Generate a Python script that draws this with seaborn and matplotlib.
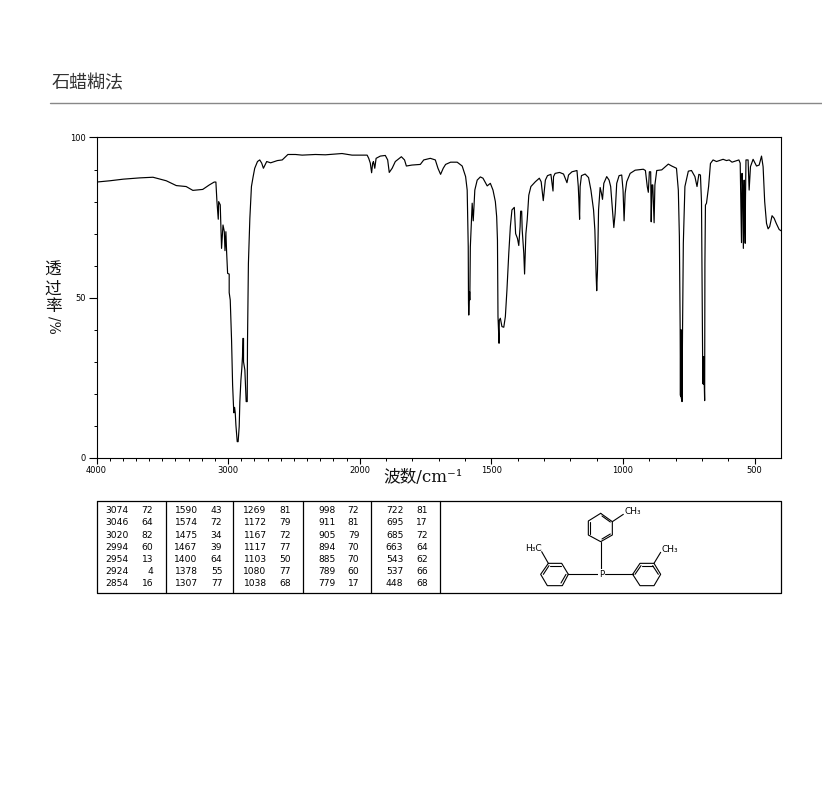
import numpy as np
import pandas as pd
import matplotlib
matplotlib.use('Agg')
import matplotlib.pyplot as plt
import seaborn as sns

sns.set_style('white')
plt.rcParams['font.family'] = ['DejaVu Sans', 'Noto Sans CJK SC']
plt.rcParams['text.color'] = 'black'
plt.rcParams['xtick.color'] = 'black'
plt.rcParams['ytick.color'] = 'black'

# spectrum, (wavenumber, %T) by region
ch_region = [(3999, 86.1), (3898, 86.5), (3797, 87.0), (3671, 87.4), (3571, 87.6), (3470, 86.5), (3394, 85.0),
             (3319, 84.7), (3268, 83.5), (3193, 83.8), (3143, 85.2), (3106, 86.1), (3093, 86.1), (3085, 80.0),
             (3075, 74.5), (3072, 80.0), (3060, 79.0), (3050, 65.4), (3039, 72.7), (3029, 70.6), (3024, 64.7),
             (3017, 70.6), (3012, 64.7), (3004, 57.6), (2992, 57.4), (2992, 51.6), (2984, 49.3), (2974, 36.8),
             (2966, 22.8), (2959, 16.0), (2956, 14.1), (2951, 15.8), (2946, 14.1), (2941, 10.3), (2931, 5.1),
             (2924, 5.1), (2916, 9.8), (2911, 17.6), (2903, 24.3), (2896, 28.0), (2891, 31.6), (2888, 37.3),
             (2883, 37.3), (2883, 30.0), (2873, 27.5), (2863, 17.6), (2855, 17.6), (2853, 35.8), (2846, 60.7),
             (2835, 74.8)]
flat_region = [(2823, 84.7), (2810, 87.8), (2798, 90.4), (2777, 92.5), (2760, 93.0), (2745, 92.0), (2732, 90.4),
               (2707, 92.5), (2677, 92.1), (2626, 92.8), (2589, 93.0), (2546, 94.7), (2488, 94.7), (2438, 94.5),
               (2337, 94.7), (2261, 94.6), (2135, 95.0), (2059, 94.5), (1972, 94.5), (1966, 93.5), (1960, 92.0),
               (1955, 89.0), (1951, 92.0), (1948, 92.5), (1943, 90.4), (1938, 93.5), (1922, 94.2), (1903, 94.4),
               (1894, 93.0), (1888, 89.1), (1877, 90.4), (1865, 92.5), (1842, 94.0), (1830, 93.0), (1823, 91.1),
               (1802, 91.4), (1770, 91.6), (1757, 93.0), (1732, 93.5), (1713, 93.0), (1703, 90.4), (1693, 88.5),
               (1683, 90.4), (1674, 91.6), (1655, 92.3), (1630, 92.3), (1611, 91.1)]
ring_region = [(1598, 87.8), (1592, 83.6), (1588, 65.9), (1587, 48.3), (1586, 44.6), (1583, 51.9), (1582, 49.3),
               (1580, 65.9), (1573, 79.5), (1569, 74.0), (1567, 77.4), (1563, 83.6), (1554, 86.7), (1542, 87.7),
               (1532, 87.3), (1516, 84.9), (1504, 85.7), (1494, 83.6), (1485, 80.0), (1480, 75.3), (1477, 68.0),
               (1475, 44.1), (1471, 35.8), (1470, 43.0), (1466, 43.6), (1460, 41.0), (1453, 40.8), (1447, 44.1),
               (1441, 52.4), (1434, 63.9), (1428, 72.2), (1422, 77.4), (1413, 78.2), (1408, 70.0), (1401, 68.5),
               (1396, 66.3), (1391, 72.2), (1389, 77.0), (1385, 77.0), (1383, 71.1), (1377, 63.9), (1374, 57.4),
               (1369, 70.0), (1364, 74.3), (1358, 82.0), (1350, 84.7), (1333, 86.2), (1318, 87.3), (1311, 86.2),
               (1303, 80.3), (1295, 86.7), (1287, 88.1), (1274, 88.5), (1266, 83.3), (1264, 87.8), (1258, 88.8),
               (1241, 89.1), (1226, 88.6), (1213, 85.9), (1207, 88.3), (1194, 89.3), (1175, 89.7), (1170, 84.7),
               (1168, 81.0), (1165, 74.5), (1163, 84.7), (1158, 88.1), (1144, 88.6), (1131, 87.5), (1122, 83.6)]
fingerprint = [(1112, 77.4), (1107, 71.1), (1102, 56.6), (1100, 52.2), (1097, 58.7), (1093, 77.4), (1087, 84.4),
               (1082, 82.6), (1078, 80.7), (1073, 85.7), (1062, 87.8), (1053, 86.7), (1047, 84.7), (1040, 77.4),
               (1035, 71.9), (1030, 76.3), (1024, 85.7), (1015, 88.1), (1005, 88.3), (1000, 83.6), (996, 74.0),
               (992, 82.6), (986, 86.2), (973, 88.8), (954, 89.8), (923, 90.1), (915, 89.7), (908, 84.7),
               (904, 82.9), (900, 89.3), (895, 89.3), (893, 73.7), (890, 85.2), (887, 85.2), (882, 73.4),
               (879, 85.2), (872, 89.7), (853, 89.9), (828, 91.7), (815, 91.1), (797, 90.4), (790, 83.6),
               (786, 69.1), (783, 39.9), (782, 19.5), (781, 39.9), (780, 19.1), (779, 39.9), (778, 18.5),
               (777, 39.9), (776, 17.6), (774, 39.9), (771, 67.0),
               (765, 84.7), (752, 89.5), (740, 89.7), (727, 87.8), (719, 84.7), (712, 88.5), (706, 88.3),
               (702, 80.0), (698, 31.6), (697, 23.3), (696, 31.6), (695, 23.0), (694, 31.6), (690, 17.9),
               (689, 60.7), (687, 78.9),
               (683, 79.5), (675, 84.7), (668, 91.9), (658, 93.0), (645, 92.5), (620, 93.2), (607, 92.8),
               (597, 93.0), (586, 92.3), (560, 93.0), (555, 92.0), (550, 67.2), (548, 88.8), (545, 83.1),
               (543, 65.4), (540, 86.7), (538, 79.5), (536, 67.0), (535, 80.5), (533, 93.0), (525, 93.0),
               (521, 83.6), (516, 90.9), (506, 93.2), (493, 91.1), (483, 91.4), (474, 94.2), (468, 90.9),
               (462, 80.0), (455, 73.2), (449, 71.5), (443, 72.2), (434, 75.6), (426, 74.8), (418, 73.2),
               (407, 71.3), (400, 70.9)]

# peak table columns
peak_wn = [['3074', '3046', '3020', '2994', '2954', '2924', '2854'],
           ['1590', '1574', '1475', '1467', '1400', '1378', '1307'],
           ['1269', '1172', '1167', '1117', '1103', '1080', '1038'],
           ['998', '911', '905', '894', '885', '789', '779'],
           ['722', '695', '685', '663', '543', '537', '448']]
peak_t = [['72', '64', '82', '60', '13', '4', '16'],
          ['43', '72', '34', '39', '64', '55', '77'],
          ['81', '79', '72', '77', '50', '77', '68'],
          ['72', '81', '79', '70', '70', '60', '17'],
          ['81', '17', '72', '64', '62', '66', '68']]
x_major = [4000, 3000, 2000, 1500, 1000, 500]


# wavenumber axis is stretched 2x below 2000
def forward(w):
    w = np.asarray(w, dtype=float)
    return np.where(w >= 2000, w, 2000 + (w - 2000) * 2)


def inverse(v):
    v = np.asarray(v, dtype=float)
    return np.where(v >= 2000, v, 2000 + (v - 2000) / 2)


W, H = 822, 794
fig = plt.figure(figsize=(W / 100, H / 100), dpi=100)
ax = fig.add_axes([96.5 / W, 1 - 458 / H, 684.5 / W, 320.5 / H])

df = pd.DataFrame(ch_region + flat_region + ring_region + fingerprint, columns=['wavenumber', 'T'])
sns.lineplot(data=df, x='wavenumber', y='T', sort=False, estimator=None, color='black', lw=0.85, ax=ax)

ax.set_xscale('function', functions=(forward, inverse))
ax.set_xlim(4000, 400)
ax.set_ylim(0, 100)
ax.set_xlabel('')
ax.set_ylabel('')
ax.set_xticks(x_major)
ax.set_xticklabels([str(v) for v in x_major])
ax.set_xticks([v for v in range(3900, 400, -100) if v not in x_major], minor=True)
ax.set_yticks([0, 50, 100])
ax.set_yticks([v for v in range(10, 100, 10) if v != 50], minor=True)
ax.tick_params(axis='x', which='major', length=4, width=0.8, bottom=True, labelsize=6, pad=2)
ax.tick_params(axis='x', which='minor', length=2.2, width=0.7, bottom=True)
ax.tick_params(axis='y', which='major', length=6, width=0.8, left=True, labelsize=6, pad=2)
ax.tick_params(axis='y', which='minor', length=2.5, width=0.7, left=True)
for s in ax.spines.values():
    s.set_color('black')
    s.set_linewidth(0.8)

# overlay in pixel units for the title, table and structure
ov = fig.add_axes([0, 0, 1, 1], facecolor='none')
ov.set_xlim(0, W)
ov.set_ylim(H, 0)
ov.axis('off')

cjk = ['Noto Sans CJK SC', 'DejaVu Sans']
serif = ['DejaVu Serif', 'Noto Sans CJK SC']
ov.text(52, 83, '石蜡糊法', fontsize=13, color='#333333', family=cjk, va='center', ha='left')
ov.plot([50, 822], [103, 103], color='#888888', lw=1)

for ch, y in zip('透过率', [270, 289, 306]):
    ov.text(53, y, ch, fontsize=12, color='#111111', family=cjk, ha='center', va='center')
ov.text(53, 325, '/%', fontsize=10, color='#111111', family=serif, rotation=270, ha='center', va='center')
ov.text(423.5, 478, '波数/cm⁻¹', fontsize=12, color='#111111', family=serif, ha='center', va='center')

# peak table
ov.plot([96.5, 781, 781, 96.5, 96.5], [501, 501, 593, 593, 501], color='black', lw=0.9)
for x in [165.7, 233, 302.7, 370.7, 439.5]:
    ov.plot([x, x], [501, 593], color='black', lw=0.9)
row_y = [510.7, 522.7, 535, 547.3, 559.3, 571.7, 584]
num_x = [129, 197.7, 266.7, 335.7, 403.3]
val_x = [153.3, 222.3, 291, 359.3, 427.7]
for nums, vals, nx, vx in zip(peak_wn, peak_t, num_x, val_x):
    for n, v, y in zip(nums, vals, row_y):
        ov.text(nx, y, n, fontsize=6.6, ha='right', va='center')
        ov.text(vx, y, v, fontsize=6.6, ha='right', va='center')

# structure, coordinates in the 3x crop of the box
mol = [
    [(302, 55), (337, 80), (337, 120), (302, 140), (265, 120), (265, 78), (302, 55)],
    [(306, 63), (331, 81)], [(306, 132), (331, 117)], [(271, 82), (271, 116)],
    [(337, 80), (370, 58)], [(302, 140), (302, 228)],
    [(205, 238), (185, 205), (145, 205), (122, 238), (142, 272), (187, 272), (205, 238)],
    [(183, 212), (150, 212)], [(198, 238), (183, 264)], [(130, 238), (147, 212)],
    [(145, 205), (125, 170)], [(205, 238), (295, 238)],
    [(398, 238), (420, 205), (462, 205), (482, 238), (462, 272), (420, 272), (398, 238)],
    [(405, 238), (423, 212)], [(425, 212), (458, 212)], [(475, 238), (458, 212)],
    [(462, 205), (482, 172)], [(315, 238), (398, 238)],
]
for seg in mol:
    xs, ys = zip(*seg)
    ov.plot(500 + np.array(xs) / 3, 495 + np.array(ys) / 3, color='black', lw=0.8)
ov.text(500 + 372 / 3, 495 + 50 / 3, 'CH₃', fontsize=6.5, ha='left', va='center')
ov.text(500 + 483 / 3, 495 + 162 / 3, 'CH₃', fontsize=6.5, ha='left', va='center')
ov.text(500 + 125 / 3, 495 + 161 / 3, 'H₃C', fontsize=6.5, ha='right', va='center')
ov.text(500 + 305 / 3, 495 + 238 / 3, 'P', fontsize=6, ha='center', va='center',
        bbox=dict(facecolor='white', edgecolor='none', pad=0.5))

fig.savefig('out.png', dpi=100)
